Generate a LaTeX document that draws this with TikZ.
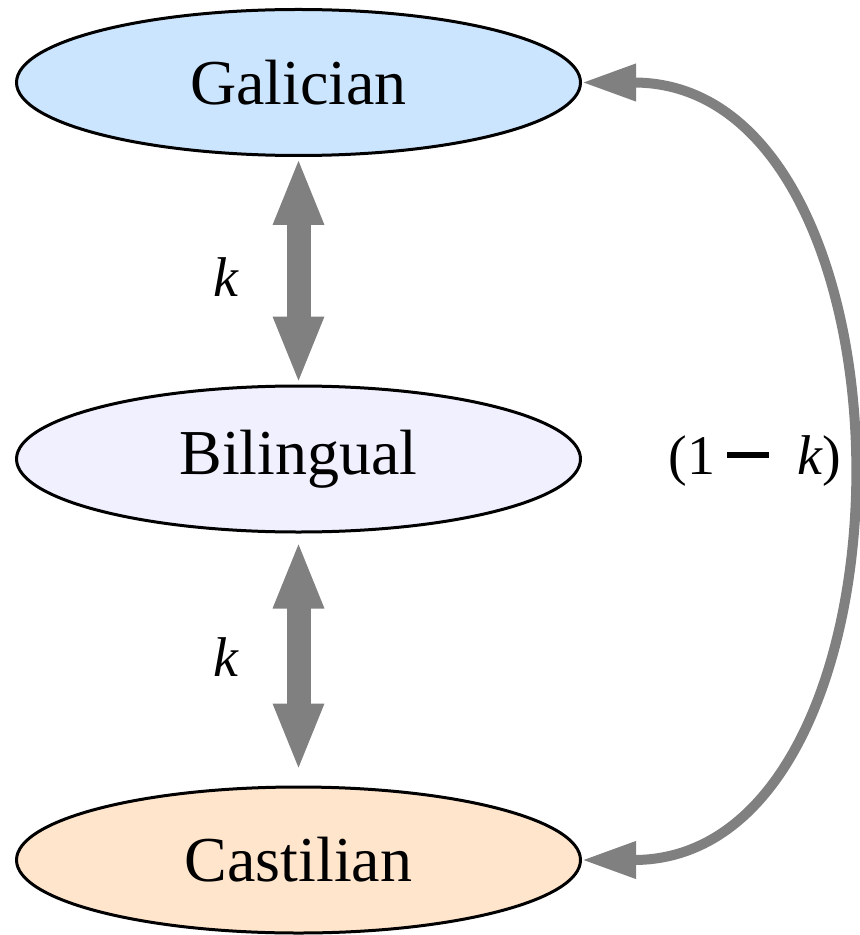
\documentclass[tikz,border=0pt]{standalone}
\usepackage{fontspec}
\setmainfont{Liberation Serif}
\usetikzlibrary{positioning,arrows.meta,shapes.geometric}
\definecolor{galblue}{HTML}{CCE5FF}
\definecolor{bilviolet}{HTML}{F0F0FF}
\definecolor{casorange}{HTML}{FFE5CC}

\begin{document}
\begin{tikzpicture}[x=0.5pt, y=-0.5pt,
    lang/.style={ellipse, draw=black, line width=1.5pt, minimum width=282pt,
                 minimum height=73pt, font=\fontsize{32}{38}\selectfont},
    swap/.style={draw=gray, line width=12pt,
                 {Triangle[length=34pt,width=23pt]}-{Triangle[length=34pt,width=23pt]}},
    jump/.style={draw=gray, line width=5pt,
                 {Triangle[length=27pt,width=17.5pt]}-{Triangle[length=27pt,width=17.5pt]}},
    rate/.style={font=\fontsize{28}{34}\selectfont}]
  \useasboundingbox (0,0) rectangle (859,935);

  % the three language groups
  \node[lang, fill=galblue] (gal) at (298.5,82.5) {Galician};
  \node[lang, fill=bilviolet] (bil) at (298.5,459) {Bilingual};
  \node[lang, fill=casorange] (cas) at (298.5,860) {Castilian};

  % transitions
  \draw[swap] (gal.south) -- (bil.north);
  \draw[swap, shorten <=3.5pt, shorten >=7pt] (bil.south) -- (cas.north);
  \draw[jump] (gal.east) to[out=0, in=0, looseness=1.15] (cas.east);

  % rates
  \node[rate] (k1) at (226,277) {\textit{k}};
  \node[rate] (k2) at (226,657) {\textit{k}};
  \node[rate] (k3) at (755,461)
    {(1\hspace{6pt}\rule[8pt]{21pt}{3pt}\hspace{14pt}\textit{k})};
\end{tikzpicture}
\end{document}
